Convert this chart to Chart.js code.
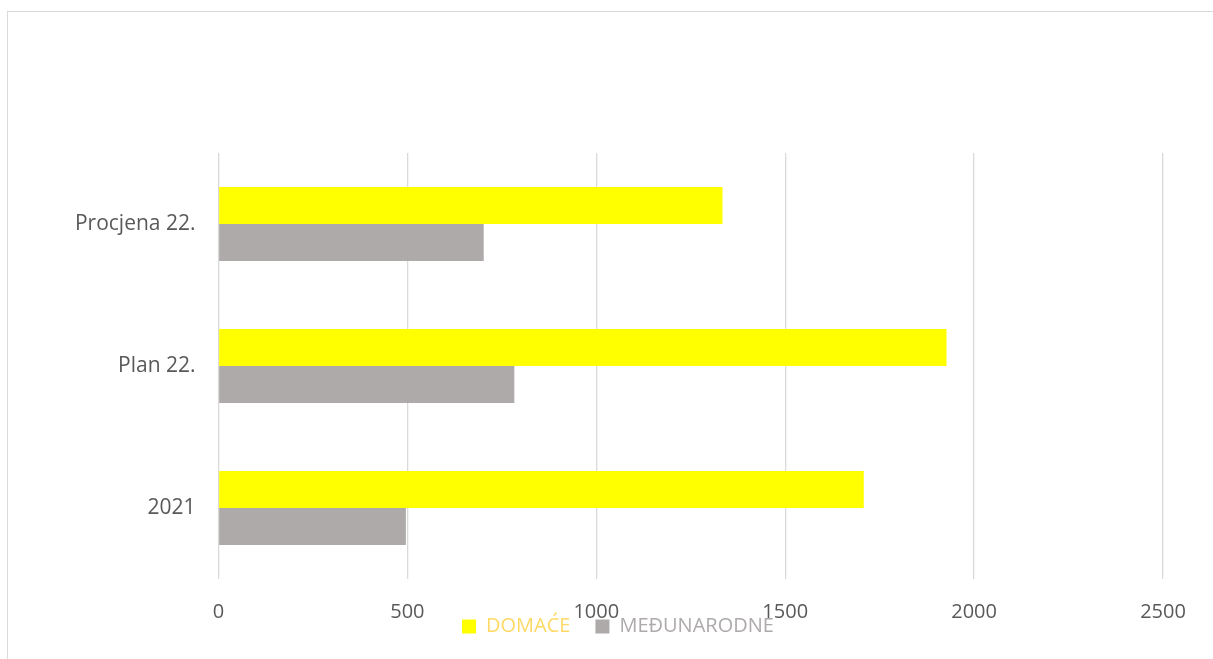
<!DOCTYPE html>
<html><head><meta charset="utf-8">
<script src="https://cdn.jsdelivr.net/npm/chart.js@4"></script>
<style>
html,body{margin:0;padding:0;overflow:hidden;background:#fff;width:1213px;height:659px;}
#frame{position:absolute;left:7px;top:11px;width:1300px;height:700px;border:1px solid #d9d9d9;box-sizing:border-box;}
#wrap{position:absolute;left:0;top:0;width:1213px;height:659px;}
</style></head><body>
<div id="frame"></div>
<div id="wrap"><canvas id="c" width="1213" height="659"></canvas></div>
<script>
const categories = ['Procjena 22.', 'Plan 22.', '2021'];
const domace = [1334, 1927, 1708];
const medjunarodne = [702, 783, 496];
const seriesNames = ['DOMAĆE', 'MEĐUNARODNE'];
const xTicks = [0, 500, 1000, 1500, 2000, 2500];

const barColors = ['#FFFF00', '#AEAAAA'];
const legendTextColors = ['#FFD966', '#AEAAAA'];

Chart.defaults.font.family = "'Open Sans', sans-serif";

const legendMove = {
  id: 'legendMove',
  afterLayout(chart) {
    const lg = chart.legend;
    if (!lg) return;
    const h = lg.height;
    const pad = lg.options.labels.padding;
    const fs = lg.options.labels.font.size;
    lg.top = 626.5 - pad - fs / 2;
    lg.bottom = lg.top + h;
    const lw = lg.lineWidths[0];
    const x0 = (lg.left + pad + lg.right - lw) / 2;
    const dx = 462 - x0;
    lg.left += dx;
    lg.right += dx;
  }
};

new Chart(document.getElementById('c'), {
  type: 'bar',
  data: {
    labels: categories,
    datasets: [
      { label: seriesNames[0], data: domace, backgroundColor: barColors[0], borderWidth: 0 },
      { label: seriesNames[1], data: medjunarodne, backgroundColor: barColors[1], borderWidth: 0 }
    ]
  },
  options: {
    indexAxis: 'y',
    responsive: false,
    animation: false,
    devicePixelRatio: 1,
    datasets: { bar: { categoryPercentage: 0.521, barPercentage: 1 } },
    layout: { padding: { left: 0, right: 50, top: 98, bottom: 35 } },
    scales: {
      x: {
        type: 'linear', min: 0, max: 2500,
        afterBuildTicks: (s) => { s.ticks = xTicks.map(v => ({ value: v })); },
        afterFit: (s) => { s.height = 45; },
        grid: { color: '#d9d9d9', lineWidth: 1.3, drawTicks: false },
        border: { display: false },
        ticks: { color: '#595959', font: { size: 20 }, padding: 21, callback: (v) => String(v) }
      },
      y: {
        afterFit: (s) => { s.width = 218.5; },
        grid: { display: false, drawTicks: false },
        border: { display: false },
        ticks: { color: '#595959', font: { size: 21 }, padding: 23 }
      }
    },
    plugins: {
      tooltip: { enabled: false },
      legend: {
        position: 'top',
        labels: {
          boxWidth: 14, boxHeight: 14, padding: 25,
          font: { size: 20 },
          generateLabels: (chart) => {
            const items = Chart.defaults.plugins.legend.labels.generateLabels(chart);
            items.forEach((it, i) => { it.fontColor = legendTextColors[i]; it.lineWidth = 0; });
            return items;
          }
        }
      }
    }
  },
  plugins: [legendMove]
});
</script>
</body></html>
